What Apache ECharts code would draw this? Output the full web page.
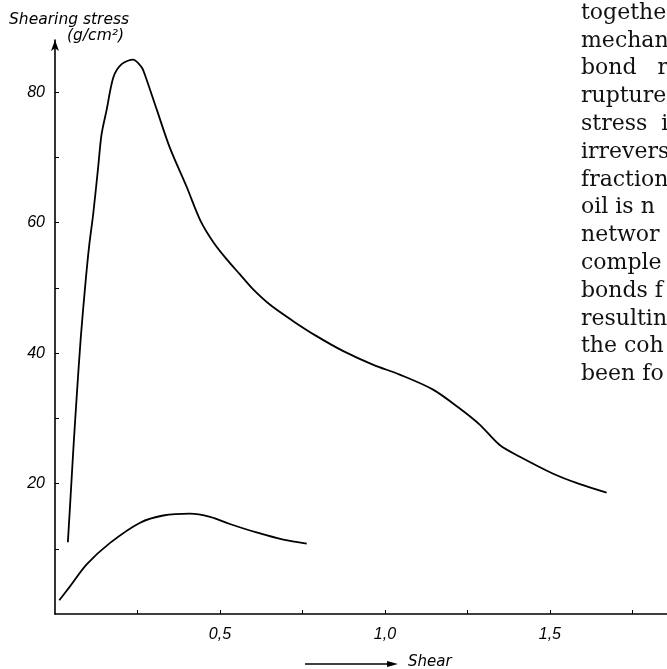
<!DOCTYPE html>
<html>
<head>
<meta charset="utf-8">
<script src="https://cdn.jsdelivr.net/npm/echarts@6/dist/echarts.min.js"></script>
<style>
    body { margin: 0; background: #fff; }
    #chart { width: 667px; height: 669px; }
</style>
</head>
<body>
<div id="chart"></div>
<script>
// upper curve: [shear, shearing stress g/cm2]
var upperCurve = [
    [0.039, 11.0], [0.047, 17.8], [0.056, 25.6], [0.066, 33.5], [0.078, 42.3],
    [0.091, 50.0], [0.103, 56.2], [0.116, 61.4], [0.131, 68.6], [0.141, 73.5],
    [0.157, 77.4], [0.177, 82.3], [0.202, 84.3], [0.237, 85.0], [0.263, 83.8],
    [0.273, 82.6], [0.308, 77.4], [0.348, 71.5], [0.399, 65.5], [0.44, 60.4],
    [0.48, 57.0], [0.52, 54.4], [0.56, 52.1], [0.60, 49.8], [0.652, 47.4],
    [0.722, 44.9], [0.793, 42.6], [0.874, 40.3], [0.965, 38.2], [1.045, 36.7],
    [1.146, 34.4], [1.227, 31.5], [1.288, 29.0], [1.348, 25.9], [1.409, 24.1],
    [1.51, 21.5], [1.591, 19.9], [1.672, 18.6]
];
// lower curve
var lowerCurve = [
    [0.013, 2.1], [0.045, 4.2], [0.096, 7.6], [0.167, 10.9], [0.258, 14.0],
    [0.328, 15.1], [0.409, 15.4], [0.47, 14.9], [0.53, 13.8], [0.611, 12.5],
    [0.692, 11.4], [0.763, 10.8]
];
var yTicks = [10, 20, 30, 40, 50, 60, 70, 80];
var yLabels = [20, 40, 60, 80];
var xTicks = [0.25, 0.5, 0.75, 1.0, 1.25, 1.5, 1.75];
var xLabels = [0.5, 1.0, 1.5];
// text of the page column on the right (cut at the edge)
var pageLines = ['togethe', 'mechan', 'bond   r', 'rupture', 'stress  i', 'irrevers',
    'fraction', 'oil is n', 'networ', 'comple', 'bonds f', 'resultin', 'the coh', 'been fo'];

var chart = echarts.init(document.getElementById('chart'));

var graphics = [
    { type: 'text', left: 9, top: 12, style: { text: 'Shearing stress', font: 'italic 15.5px "DejaVu Sans"', fill: '#000' } },
    { type: 'text', left: 67, top: 28, style: { text: '(g/cm²)', font: 'italic 15.5px "DejaVu Sans"', fill: '#000' } },
    // arrow before "Shear"
    { type: 'line', shape: { x1: 305, y1: 664, x2: 392, y2: 664 }, style: { stroke: '#000', lineWidth: 1.4 } },
    { type: 'polygon', shape: { points: [[398, 664], [387, 661], [387, 667]] }, style: { fill: '#000' } },
    { type: 'text', left: 408, top: 655, style: { text: 'Shear', font: 'italic 15px "DejaVu Sans"', fill: '#000' } }
];
for (var i = 0; i < pageLines.length; i++) {
    graphics.push({
        type: 'text', x: 581, y: 13 + i * 27.8,
        style: { text: pageLines[i], font: '22px "DejaVu Serif"', fill: '#111', verticalAlign: 'middle' }
    });
}

var option = {
    animation: false,
    backgroundColor: '#fff',
    grid: { left: 55, right: 0, top: 40, bottom: 55 },
    xAxis: {
        type: 'value', min: 0, max: 1.855,
        axisLine: { lineStyle: { color: '#000', width: 1.6 } },
        axisTick: { inside: true, length: 4, customValues: xTicks, lineStyle: { color: '#000' } },
        axisLabel: {
            customValues: xLabels, margin: 13, color: '#000', fontSize: 16, fontStyle: 'italic',
            fontFamily: 'Liberation Sans',
            formatter: function (v) { return v.toFixed(1).replace('.', ','); }
        },
        splitLine: { show: false }
    },
    yAxis: {
        type: 'value', min: 0, max: 88,
        axisLine: { show: true, symbol: ['none', 'arrow'], symbolSize: [6, 11], lineStyle: { color: '#000', width: 1.6 } },
        axisTick: { show: true, inside: true, length: 4, customValues: yTicks, lineStyle: { color: '#000' } },
        axisLabel: {
            customValues: yLabels, margin: 10, color: '#000', fontSize: 16, fontStyle: 'italic',
            fontFamily: 'Liberation Sans'
        },
        splitLine: { show: false }
    },
    series: [
        { type: 'line', data: upperCurve, smooth: 0.3, showSymbol: false, lineStyle: { color: '#000', width: 1.8 } },
        { type: 'line', data: lowerCurve, smooth: 0.3, showSymbol: false, lineStyle: { color: '#000', width: 1.8 } }
    ],
    graphic: graphics
};
chart.setOption(option);
</script>
</body>
</html>
